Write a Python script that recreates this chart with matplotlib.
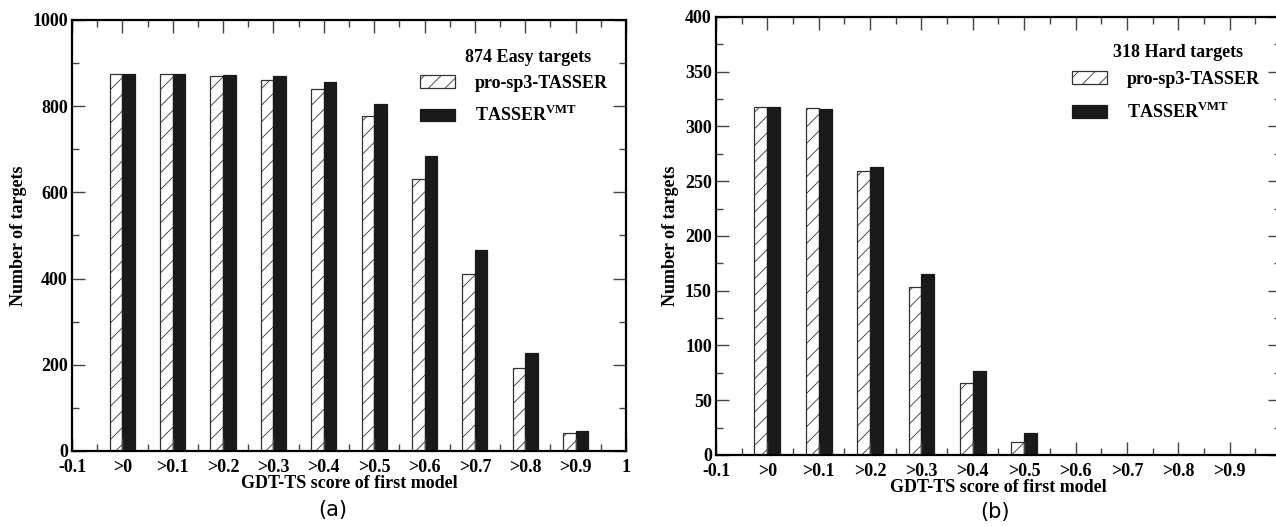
import matplotlib
matplotlib.use("Agg")
import matplotlib.pyplot as plt
from matplotlib.ticker import MultipleLocator, FixedLocator, FixedFormatter
import numpy as np

thresholds = [0.0, 0.1, 0.2, 0.3, 0.4, 0.5, 0.6, 0.7, 0.8, 0.9]
xtick_labels = ["-0.1", ">0", ">0.1", ">0.2", ">0.3", ">0.4", ">0.5",
                ">0.6", ">0.7", ">0.8", ">0.9", "1"]

easy_pro = [874, 874, 870, 860, 840, 777, 632, 410, 193, 41]
easy_vmt = [874, 874, 873, 869, 857, 805, 685, 467, 228, 47]
hard_pro = [318, 317, 259, 153, 66, 12, 0, 0, 0, 0]
hard_vmt = [318, 316, 263, 165, 77, 20, 0, 0, 0, 0]

series_names = ["pro-sp3-TASSER", r"TASSER$^{\mathbf{VMT}}$"]

plt.rcParams['font.family'] = ['Liberation Serif', 'DejaVu Serif']
plt.rcParams['font.weight'] = 'bold'
plt.rcParams['hatch.linewidth'] = 0.6
plt.rcParams['hatch.color'] = '#333333'
plt.rcParams['mathtext.fontset'] = 'custom'
plt.rcParams['mathtext.bf'] = 'Liberation Serif:bold'
plt.rcParams['mathtext.rm'] = 'Liberation Serif:bold'

fig = plt.figure(figsize=(12.76, 5.26), dpi=100)
ax_a = fig.add_axes([0.0564, 0.1426, 0.4342, 0.8194])
ax_b = fig.add_axes([0.5611, 0.1350, 0.4428, 0.8327])

W = 0.025
FS = 13


def draw(ax, pro, vmt, ymax, ymaj, ymin, title, labels, title_xy, leg_anchor):
    x = np.array(thresholds)
    ax.bar(x, pro, width=-W, align='edge', facecolor='white',
           edgecolor='#333333', linewidth=0.9, hatch='//',
           label=series_names[0])
    ax.bar(x, vmt, width=W, align='edge', facecolor='#1a1a1a',
           edgecolor='#1a1a1a', linewidth=0.9, label=series_names[1])
    ax.set_xlim(-0.1, 1.0)
    ax.set_ylim(0, ymax)
    ticks = [-0.1] + thresholds + [1.0]
    ax.xaxis.set_major_locator(FixedLocator(ticks))
    ax.xaxis.set_major_formatter(FixedFormatter(labels))
    ax.xaxis.set_minor_locator(FixedLocator(np.arange(-0.05, 1.0, 0.1)))
    ax.yaxis.set_major_locator(MultipleLocator(ymaj))
    ax.yaxis.set_minor_locator(MultipleLocator(ymin))
    ax.tick_params(which='both', direction='in', top=True, right=True,
                   labelsize=FS, width=1.0, color='#444444')
    ax.tick_params(which='major', length=9.5)
    ax.tick_params(which='minor', length=5)
    ax.tick_params(axis='x', which='major', pad=6)
    ax.tick_params(axis='y', which='major', pad=3)
    for lab in ax.get_xticklabels() + ax.get_yticklabels():
        lab.set_fontweight('bold')
    for s in ax.spines.values():
        s.set_linewidth(1.6)
    ax.set_xlabel("GDT-TS score of first model", fontsize=FS,
                  fontweight='bold', labelpad=-1)
    ax.set_ylabel("Number of targets", fontsize=FS, fontweight='bold')
    ax.text(title_xy[0], title_xy[1], title, transform=ax.transAxes,
            ha='center', va='center', fontsize=FS, fontweight='bold')
    leg = ax.legend(loc='upper right', bbox_to_anchor=leg_anchor,
                    frameon=False, fontsize=FS, borderpad=0,
                    borderaxespad=0, handlelength=1.95, handleheight=0.7,
                    handletextpad=1.1, labelspacing=0.75)
    for t in leg.get_texts():
        t.set_fontweight('bold')


draw(ax_a, easy_pro, easy_vmt, 1000, 200, 100, "874 Easy targets",
     xtick_labels, (0.823, 0.914), (0.9675, 0.873))
draw(ax_b, hard_pro, hard_vmt, 400, 50, 25, "318 Hard targets",
     xtick_labels[:-1] + [""], (0.818, 0.92), (0.963, 0.877))

fig.text(0.261, 0.03, "(a)", fontsize=15, family='DejaVu Sans',
         fontweight='normal', ha='center', va='center')
fig.text(0.78, 0.026, "(b)", fontsize=15, family='DejaVu Sans',
         fontweight='normal', ha='center', va='center')

fig.savefig("out.png", dpi=100)
